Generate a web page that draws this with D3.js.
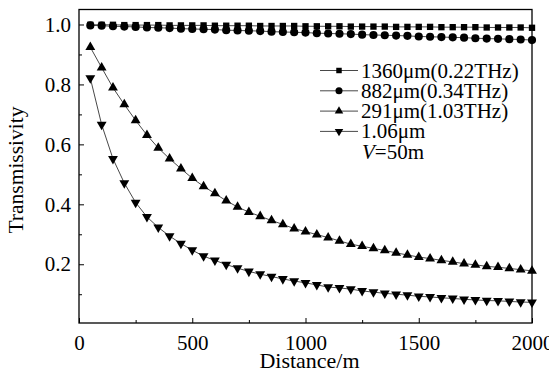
<!DOCTYPE html>
<html>
<head>
<meta charset="utf-8">
<script src="https://cdn.jsdelivr.net/npm/d3@7"></script>
<style>
  body { margin: 0; background: #fff; }
  svg text { font-family: "Liberation Serif", "Times New Roman", serif; }
</style>
</head>
<body>
<svg id="fig" width="549" height="383"></svg>
<script>
var distance = [50, 100, 150, 200, 250, 300, 350, 400, 450, 500,
                550, 600, 650, 700, 750, 800, 850, 900, 950, 1000,
                1050, 1100, 1150, 1200, 1250, 1300, 1350, 1400, 1450, 1500,
                1550, 1600, 1650, 1700, 1750, 1800, 1850, 1900, 1950, 2000];

var t1360 = [0.999, 0.999, 0.999, 0.998, 0.998, 0.998, 0.998, 0.997, 0.997, 0.997,
             0.997, 0.996, 0.996, 0.996, 0.996, 0.995, 0.995, 0.995, 0.995, 0.994,
             0.994, 0.994, 0.994, 0.993, 0.993, 0.993, 0.993, 0.992, 0.992, 0.992,
             0.992, 0.991, 0.991, 0.991, 0.991, 0.990, 0.990, 0.990, 0.990, 0.989];

var t882 = [0.997, 0.996, 0.994, 0.993, 0.992, 0.990, 0.989, 0.988, 0.986, 0.985,
            0.984, 0.983, 0.981, 0.980, 0.979, 0.978, 0.976, 0.975, 0.974, 0.973,
            0.971, 0.970, 0.969, 0.968, 0.966, 0.965, 0.964, 0.963, 0.962, 0.960,
            0.959, 0.958, 0.957, 0.956, 0.954, 0.953, 0.952, 0.951, 0.950, 0.948];

var t291 = [0.924, 0.856, 0.789, 0.733, 0.680, 0.631, 0.588, 0.552, 0.519, 0.487,
            0.460, 0.436, 0.412, 0.391, 0.374, 0.360, 0.346, 0.333, 0.319, 0.309,
            0.299, 0.289, 0.278, 0.267, 0.260, 0.253, 0.246, 0.238, 0.231, 0.224,
            0.219, 0.213, 0.208, 0.202, 0.198, 0.193, 0.190, 0.186, 0.182, 0.178];

var t106 = [0.821, 0.666, 0.552, 0.471, 0.406, 0.358, 0.323, 0.294, 0.269, 0.247,
            0.227, 0.213, 0.199, 0.187, 0.176, 0.167, 0.159, 0.151, 0.144, 0.138,
            0.131, 0.124, 0.121, 0.117, 0.111, 0.107, 0.103, 0.100, 0.097, 0.093,
            0.091, 0.088, 0.086, 0.083, 0.081, 0.079, 0.078, 0.076, 0.074, 0.073];

var seriesNames = ["1360\u03bcm(0.22THz)", "882\u03bcm(0.34THz)", "291\u03bcm(1.03THz)", "1.06\u03bcm"];
var xTicks = [0, 500, 1000, 1500, 2000];
var xMinor = [250, 750, 1250, 1750];
var yTicks = [0.2, 0.4, 0.6, 0.8, 1.0];
var yMinor = [0.1, 0.3, 0.5, 0.7, 0.9];

(function fig() {
  var svg = d3.select("#fig"),
      left = 79, right = 532, top = 9.5, bottom = 323,
      serif = "'Liberation Serif', 'Times New Roman', serif";

  var x = d3.scaleLinear().domain([0, 2000]).range([left, right]);
  var y = d3.scaleLinear().domain([0.004, 1.05]).range([bottom, top]);

  var series = [
    {name: seriesNames[0], values: t1360, sym: d3.symbolSquare, size: 40, rot: 0},
    {name: seriesNames[1], values: t882, sym: d3.symbolCircle, size: 52, rot: 0},
    {name: seriesNames[2], values: t291, sym: d3.symbolTriangle, size: 42, rot: 0},
    {name: seriesNames[3], values: t106, sym: d3.symbolTriangle, size: 42, rot: 180}
  ];

  // axes, ticks pointing inward
  svg.append("g").attr("transform", "translate(0," + bottom + ")")
      .call(d3.axisBottom(x).tickValues(xTicks).tickFormat(d3.format("d")).tickSize(-5).tickPadding(12));
  svg.append("g").attr("transform", "translate(0," + bottom + ")")
      .call(d3.axisBottom(x).tickValues(xMinor).tickFormat("").tickSize(-3));
  svg.append("g").attr("transform", "translate(" + left + ",0)")
      .call(d3.axisLeft(y).tickValues(yTicks).tickFormat(d3.format(".1f")).tickSize(-5).tickPadding(8));
  svg.append("g").attr("transform", "translate(" + left + ",0)")
      .call(d3.axisLeft(y).tickValues(yMinor).tickFormat("").tickSize(-3));

  svg.selectAll("g").attr("font-family", serif).attr("font-size", 21);
  svg.selectAll(".domain").remove();
  svg.selectAll(".tick line").attr("stroke", "#000").attr("stroke-width", 1);
  svg.selectAll(".tick text").attr("fill", "#000");

  svg.append("rect")
    .attr("x", left).attr("y", top)
    .attr("width", right - left).attr("height", bottom - top)
    .attr("fill", "none").attr("stroke", "#000").attr("stroke-width", 1.3);

  var line = d3.line()
    .x(function(d, i) { return x(distance[i]); })
    .y(function(d) { return y(d); });

  series.forEach(function(s) {
    svg.append("path").datum(s.values)
      .attr("d", line)
      .attr("fill", "none").attr("stroke", "#333").attr("stroke-width", 0.9);
    svg.append("g").selectAll("path")
      .data(s.values)
      .enter().append("path")
        .attr("d", d3.symbol().type(s.sym).size(s.size))
        .attr("transform", function(d, i) {
          return "translate(" + x(distance[i]) + "," + y(d) + ") rotate(" + s.rot + ")";
        })
        .attr("fill", "#000");
  });

  // legend
  var leg = svg.append("g").attr("font-family", serif).attr("font-size", 21);
  series.forEach(function(s, i) {
    var ly = 70.5 + i * 20.3;
    leg.append("line").attr("x1", 320).attr("x2", 358).attr("y1", ly).attr("y2", ly)
      .attr("stroke", "#333").attr("stroke-width", 0.9);
    leg.append("path")
      .attr("d", d3.symbol().type(s.sym).size(s.size * 0.75))
      .attr("transform", "translate(339," + ly + ") rotate(" + s.rot + ")")
      .attr("fill", "#000");
    leg.append("text").attr("x", 361).attr("y", ly + 7).text(s.name);
  });
  var vt = leg.append("text").attr("x", 362).attr("y", 70.5 + 4 * 20.3 + 7);
  vt.append("tspan").style("font-style", "italic").text("V");
  vt.append("tspan").text("=50m");

  // axis titles
  svg.append("text")
    .attr("x", (left + right) / 2 + 4).attr("y", 368)
    .attr("text-anchor", "middle")
    .attr("font-family", serif).attr("font-size", 22)
    .text("Distance/m");
  svg.append("text")
    .attr("transform", "translate(23,170) rotate(-90)")
    .attr("text-anchor", "middle")
    .attr("font-family", serif).attr("font-size", 21.5)
    .text("Transmissivity");
})();
</script>
</body>
</html>
